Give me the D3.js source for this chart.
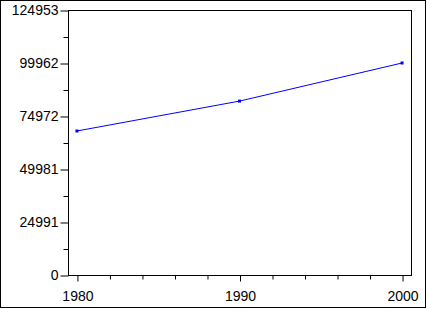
<!DOCTYPE html>
<head>
    <meta charset="utf-8">
    <title>Chart</title>
    <style>
        body { margin: 0; background: #fff; }
        text { font-family: "Liberation Sans", Arial, sans-serif; font-size: 14px; fill: #000; }
    </style>
</head>
<body>
    <script src="https://d3js.org/d3.v7.min.js"></script>
    <script>
        // values
        var years = [1980, 1990, 2000];
        var values = [67900, 82000, 99962];
        var yTickLabels = ["0", "24991", "49981", "74972", "99962", "124953"];
        var xTickLabels = ["1980", "1990", "2000"];

        var W = 427, H = 309;
        var margin = { top: 10, right: 16, bottom: 34, left: 68 },
            width = 411 - margin.left,
            height = 275 - margin.top;

        var svg = d3.select("body").append("svg")
            .attr("width", W)
            .attr("height", H);

        // outer border
        svg.append("rect")
            .attr("x", 0.5).attr("y", 0.5)
            .attr("width", W - 2).attr("height", H - 2)
            .attr("fill", "none").attr("stroke", "#000");

        var g = svg.append("g")
            .attr("transform", "translate(" + margin.left + "," + margin.top + ")");

        var yTicks = yTickLabels.map(Number);
        var x = d3.scaleLinear().domain([1979.45, 2000.55]).range([0, width]);
        var y = d3.scaleLinear().domain([0, yTicks[yTicks.length - 1]]).range([height, 0]);

        // plot frame
        g.append("rect")
            .attr("x", 0.5).attr("y", 0.5)
            .attr("width", width).attr("height", height)
            .attr("fill", "none").attr("stroke", "#000");

        // y minor ticks
        var yMinor = [];
        for (var i = 0; i < yTicks.length - 1; i++) yMinor.push((yTicks[i] + yTicks[i + 1]) / 2);
        g.append("g")
            .attr("transform", "translate(0.5,0.5)")
            .call(d3.axisLeft(y).tickValues(yMinor).tickSize(5).tickFormat(""))
            .call(function (a) { a.select(".domain").remove(); });

        // y major ticks
        g.append("g")
            .attr("transform", "translate(0.5,0.5)")
            .call(d3.axisLeft(y).tickValues(yTicks).tickSize(8).tickPadding(2)
                .tickFormat(function (d, i) { return yTickLabels[i]; }))
            .call(function (a) {
                a.select(".domain").remove();
                a.selectAll("text").style("font-size", "14px").style("font-family", null);
            });

        // x minor ticks
        var xMinor = [];
        for (var k = 0; k < xTickLabels.length - 1; k++) {
            var a0 = +xTickLabels[k], a1 = +xTickLabels[k + 1];
            for (var s = 1; s < 5; s++) xMinor.push(a0 + (a1 - a0) * s / 5);
        }
        g.append("g")
            .attr("transform", "translate(0.5," + (height + 0.5) + ")")
            .call(d3.axisBottom(x).tickValues(xMinor).tickSize(4).tickFormat(""))
            .call(function (a) { a.select(".domain").remove(); });

        g.append("g")
            .attr("transform", "translate(0.5," + (height + 0.5) + ")")
            .call(d3.axisBottom(x).tickValues(xTickLabels.map(Number)).tickSize(6).tickPadding(10)
                .tickFormat(function (d, i) { return xTickLabels[i]; }))
            .call(function (a) {
                a.select(".domain").remove();
                a.selectAll("text").style("font-size", "14px").style("font-family", null);
            });

        var data = years.map(function (d, i) { return { year: d, value: values[i] }; });

        var line = d3.line()
            .x(function (d) { return x(d.year); })
            .y(function (d) { return y(d.value); });

        g.append("path")
            .datum(data)
            .attr("fill", "none")
            .attr("stroke", "#0000ff")
            .attr("stroke-width", 1)
            .attr("d", line);

        g.selectAll(".pt")
            .data(data)
            .enter().append("rect")
            .attr("class", "pt")
            .attr("x", function (d) { return x(d.year) - 1.5; })
            .attr("y", function (d) { return y(d.value) - 1.5; })
            .attr("width", 3).attr("height", 3)
            .attr("fill", "#0000ff");
    </script>
</body>
